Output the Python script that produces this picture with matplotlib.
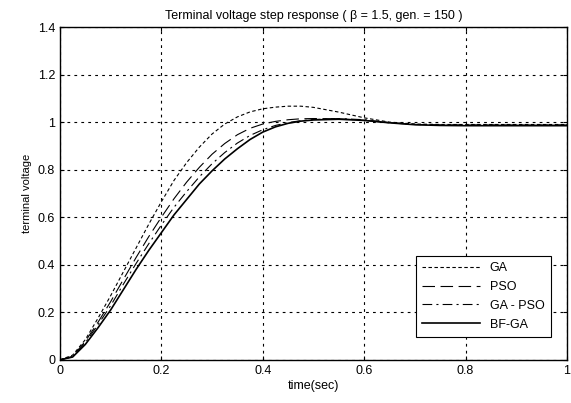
import numpy as np
import matplotlib
matplotlib.use("Agg")
import matplotlib.pyplot as plt

# valores
t = [0, 0.025, 0.05, 0.075, 0.1, 0.125, 0.15, 0.175, 0.2, 0.225, 0.25, 0.275,
     0.3, 0.325, 0.35, 0.375, 0.4, 0.425, 0.45, 0.475, 0.5, 0.55, 0.6, 0.65,
     0.7, 0.75, 0.8, 0.9, 1.0]

ga = [0, 0.02, 0.085, 0.175, 0.27, 0.37, 0.47, 0.57, 0.665, 0.755, 0.83, 0.895,
      0.95, 0.992, 1.022, 1.043, 1.056, 1.063, 1.067, 1.067, 1.062, 1.042, 1.018, 1.0,
      0.992, 0.99, 0.99, 0.99, 0.99]

pso = [0, 0.015, 0.078, 0.158, 0.245, 0.338, 0.43, 0.518, 0.6, 0.678, 0.748, 0.81,
       0.865, 0.91, 0.947, 0.974, 0.992, 1.003, 1.01, 1.014, 1.015, 1.014, 1.008, 0.997,
       0.99, 0.988, 0.988, 0.988, 0.988]

ga_pso = [0, 0.013, 0.072, 0.148, 0.228, 0.318, 0.405, 0.488, 0.567, 0.642, 0.708, 0.77,
          0.825, 0.872, 0.912, 0.944, 0.968, 0.986, 0.998, 1.006, 1.011, 1.015, 1.01, 0.998,
          0.99, 0.987, 0.987, 0.987, 0.987]

bf_ga = [0, 0.012, 0.065, 0.135, 0.21, 0.295, 0.38, 0.46, 0.535, 0.61, 0.675, 0.74,
         0.795, 0.845, 0.888, 0.927, 0.958, 0.98, 0.995, 1.004, 1.009, 1.012, 1.007, 0.997,
         0.989, 0.986, 0.985, 0.985, 0.985]

plt.rcParams['font.family'] = ['Liberation Sans', 'DejaVu Sans']
plt.rcParams['font.size'] = 9
plt.rcParams['lines.scale_dashes'] = False

fig = plt.figure(figsize=(5.71, 4.03), dpi=100)
ax = fig.add_axes([0.105, 0.107, 0.888, 0.826])

ax.plot(t, ga, color='black', lw=0.8, linestyle=(0, (2.5, 1.8)), label='GA')
ax.plot(t, pso, color='black', lw=0.8, linestyle=(0, (9, 4)), label='PSO')
ax.plot(t, ga_pso, color='black', lw=0.8, linestyle=(0, (7, 3, 1.5, 3)), label='GA - PSO')
ax.plot(t, bf_ga, color='black', lw=1.2, label='BF-GA')

ax.set_xlim(0, 1)
ax.set_ylim(0, 1.4)
ax.set_xticks([0, 0.2, 0.4, 0.6, 0.8, 1])
ax.set_xticklabels(['0', '0.2', '0.4', '0.6', '0.8', '1'])
ax.set_yticks([0, 0.2, 0.4, 0.6, 0.8, 1, 1.2, 1.4])
ax.set_yticklabels(['0', '0.2', '0.4', '0.6', '0.8', '1', '1.2', '1.4'])
ax.tick_params(direction='in', top=True, right=True, length=3, colors='black')
ax.grid(True, color='black', linestyle=(0, (2, 3)), lw=0.8)
for s in ax.spines.values():
    s.set_linewidth(1.0)
    s.set_color('black')

ax.set_title('Terminal voltage step response ( β = 1.5, gen. = 150 )', fontsize=9, pad=6)
ax.set_xlabel('time(sec)', fontsize=9, labelpad=2)
ax.set_ylabel('terminal voltage', fontsize=8, labelpad=4)

leg = ax.legend(loc='lower right', bbox_to_anchor=(0.968, 0.069), handlelength=4.6,
                fancybox=False, framealpha=1, edgecolor='black', borderpad=0.5,
                labelspacing=0.55, fontsize=9, borderaxespad=0)
leg.get_frame().set_linewidth(0.8)

fig.savefig('out.png', dpi=100)
